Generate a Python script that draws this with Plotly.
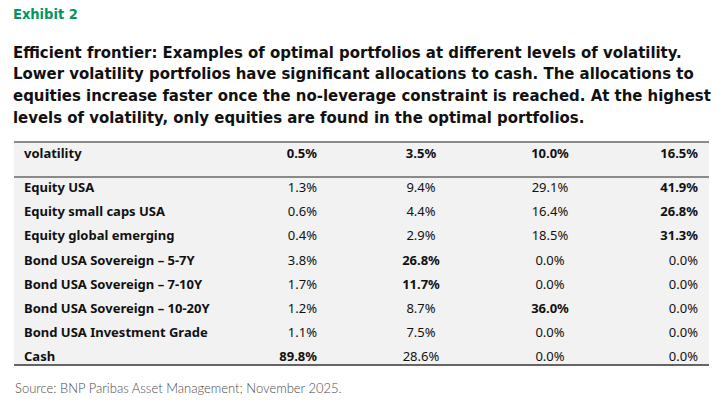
import plotly.graph_objects as go

# ---- data ----
volatility_levels = ["0.5%", "3.5%", "10.0%", "16.5%"]
assets = ["Equity USA", "Equity small caps USA", "Equity global emerging",
          "Bond USA Sovereign – 5-7Y", "Bond USA Sovereign – 7-10Y",
          "Bond USA Sovereign – 10-20Y", "Bond USA Investment Grade", "Cash"]
vol_0_5 = [1.3, 0.6, 0.4, 3.8, 1.7, 1.2, 1.1, 89.8]
vol_3_5 = [9.4, 4.4, 2.9, 26.8, 11.7, 8.7, 7.5, 28.6]
vol_10_0 = [29.1, 16.4, 18.5, 0.0, 0.0, 36.0, 0.0, 0.0]
vol_16_5 = [41.9, 26.8, 31.3, 0.0, 0.0, 0.0, 0.0, 0.0]
# cells shown in bold in the source (row index per column)
bold_0_5 = [7]
bold_3_5 = [3, 4]
bold_10_0 = [5]
bold_16_5 = [0, 1, 2]

title = "Exhibit 2"
subtitle_lines = [
    "Efficient frontier: Examples of optimal portfolios at different levels of volatility.",
    "Lower volatility portfolios have significant allocations to cash. The allocations to",
    "equities increase faster once the no-leverage constraint is reached. At the highest",
    "levels of volatility, only equities are found in the optimal portfolios.",
]
source = "Source: BNP Paribas Asset Management; November 2025."

W, H = 725, 406
TFONT = "'Noto Sans', Lato, sans-serif"
HFONT = "'Liberation Sans Narrow', 'DejaVu Sans Condensed', 'Arial Narrow', sans-serif"
BG = "#f2f2f2"
TXT = "#111111"


def fmt(vals, bold_idx):
    out = []
    for i, v in enumerate(vals):
        s = f"{v:.1f}%"
        out.append(f"<b>{s}</b>" if i in bold_idx else s)
    return out


rows = list(range(len(assets)))
HEADER_ROW = -1.42

# column layout: (anchor x in px, textposition)
col_layout = [(24, "middle right"), (317, "middle left"), (421, "middle center"),
              (550, "middle center"), (698, "middle left")]
col_text = [
    [f"<b>{a}</b>" for a in assets],
    fmt(vol_0_5, bold_0_5),
    fmt(vol_3_5, bold_3_5),
    fmt(vol_10_0, bold_10_0),
    fmt(vol_16_5, bold_16_5),
]
header_text = ["<b>volatility</b>"] + [f"<b>{v}</b>" for v in volatility_levels]

fig = go.Figure()
for (cx, pos), texts, htxt in zip(col_layout, col_text, header_text):
    fig.add_trace(go.Scatter(
        x=[cx] * (len(rows) + 1), y=[HEADER_ROW] + rows,
        text=[htxt] + texts, mode="text", textposition=pos,
        textfont=dict(family=TFONT, size=13, color=TXT),
        hoverinfo="skip", showlegend=False, cliponaxis=False))

# row i centre at pixel 189 + 24.1*i
ROW_PX = 24.1
r_top = -189 / ROW_PX
r_bot = r_top + H / ROW_PX


def py(y):
    return 1 - y / H


shapes = [
    dict(type="rect", xref="paper", yref="paper", x0=14 / W, x1=709 / W,
         y0=py(365), y1=py(142), fillcolor=BG, line=dict(width=0), layer="below"),
    dict(type="line", xref="paper", yref="paper", x0=14 / W, x1=709 / W,
         y0=py(142), y1=py(142), line=dict(color="#8a8a8a", width=2)),
    dict(type="line", xref="paper", yref="paper", x0=14 / W, x1=709 / W,
         y0=py(177), y1=py(177), line=dict(color="#8a8a8a", width=2)),
    dict(type="line", xref="paper", yref="paper", x0=14 / W, x1=709 / W,
         y0=py(365), y1=py(365), line=dict(color="#333333", width=1.5)),
]

annotations = [
    dict(text=f"<b>{title}</b>", x=11 / W, y=py(14), xref="paper", yref="paper",
         xanchor="left", yanchor="middle", showarrow=False,
         font=dict(family=HFONT, size=14.5, color="#00965e")),
]
for i, line in enumerate(subtitle_lines):
    annotations.append(dict(text=f"<b>{line}</b>", x=11 / W, y=py(52 + i * 21.7),
                            xref="paper", yref="paper", xanchor="left", yanchor="middle",
                            showarrow=False,
                            font=dict(family=HFONT, size=16.6, color="#111111")))
annotations.append(dict(text=source, x=13 / W, y=py(388), xref="paper", yref="paper",
                        xanchor="left", yanchor="middle", showarrow=False,
                        font=dict(family="Lato, sans-serif", size=13, color="#4a4a4a", weight=300)))

fig.update_layout(width=W, height=H, margin=dict(l=0, r=0, t=0, b=0),
                  paper_bgcolor="white", plot_bgcolor="rgba(0,0,0,0)",
                  xaxis=dict(range=[0, W], visible=False, fixedrange=True),
                  yaxis=dict(range=[r_bot, r_top], visible=False, fixedrange=True),
                  shapes=shapes, annotations=annotations)

fig.write_html("out.html", post_script="document.body.style.margin='0';",
               config={"displayModeBar": False})
